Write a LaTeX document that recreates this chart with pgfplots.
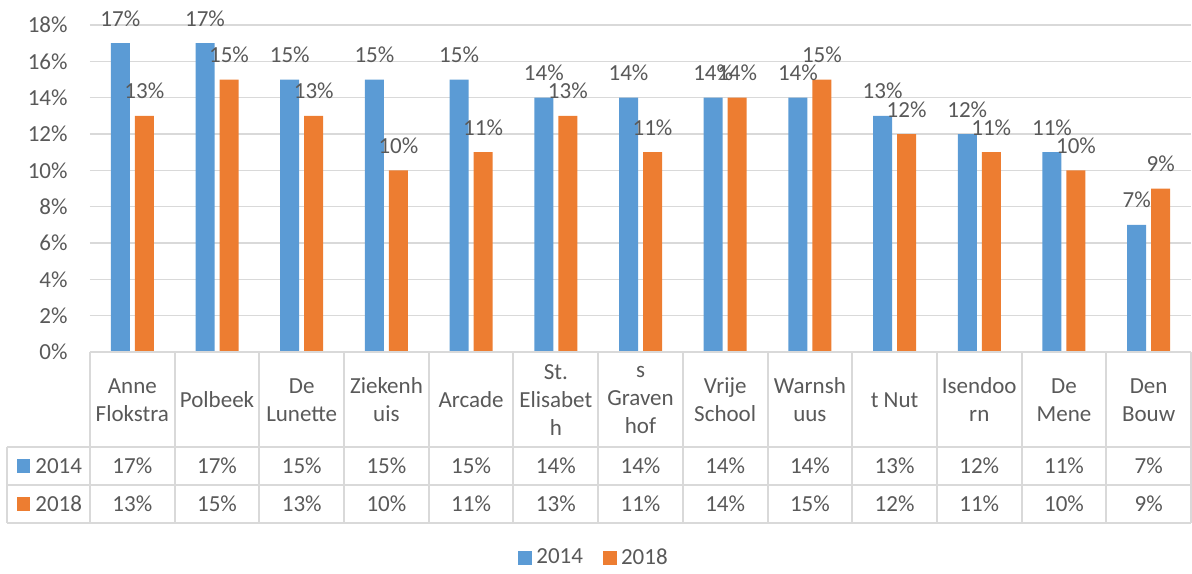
\documentclass[border=0pt]{standalone}
\usepackage{pgfplots}
\pgfplotsset{compat=1.18}
\usepackage{pgfplotstable}
\usepackage{fontspec}
\setmainfont{Carlito}
\definecolor{cblue}{HTML}{5B9BD5}
\definecolor{corange}{HTML}{ED7D31}
\definecolor{ctext}{HTML}{595959}
\definecolor{cgrid}{HTML}{D9D9D9}

\pgfplotstableread{
x a b
0 17 13
1 17 15
2 15 13
3 15 10
4 15 11
5 14 13
6 14 11
7 14 14
8 14 15
9 13 12
10 12 11
11 11 10
12 7 9
}\datatable

\begin{document}
\begin{tikzpicture}[font=\fontsize{11.5}{14}\selectfont, text=ctext]
\path[use as bounding box] (-45pt,-110.5pt) rectangle (551pt,176pt);
\begin{axis}[
  scale only axis, width=550.5pt, height=163.5pt,
  xmin=-0.5, xmax=12.5, ymin=0, ymax=18,
  clip=false,
  ytick={0,2,...,18},
  xtick={0,...,12},
  xticklabels={Anne\\Flokstra, Polbeek, De\\Lunette, Ziekenh\\uis, Arcade, St.\\Elisabet\\h, s\\Graven\\hof, Vrije\\School, Warnsh\\uus, t Nut, Isendoo\\rn, De\\Mene, Den\\Bouw},
  xticklabel style={align=center, anchor=center, yshift=-24pt, font=\fontsize{11.5}{14}\selectfont, text=ctext},
  yticklabel={\pgfmathprintnumber{\tick}\%},
  /pgf/number format/assume math mode=true,
  yticklabel style={xshift=-7.7pt, font=\fontsize{11.5}{14}\selectfont, text=ctext},
  major tick length=0pt,
  axis line style={draw=none},
  ymajorgrids, grid style={cgrid, line width=0.75pt},
  legend style={at={(0.4587,-0.63)}, anchor=center, draw=none, legend columns=-1,
    /tikz/every even column/.append style={column sep=8pt},
    font=\fontsize{11.5}{14}\selectfont, text=ctext},
  legend image code/.code={\fill[#1] (0pt,-3.5pt) rectangle (7pt,3.5pt);},
]
\addplot[ybar, bar width=9.5pt, bar shift=-6pt, fill=cblue, draw=none,
  nodes near coords={\pgfmathprintnumber{\pgfplotspointmeta}\%},
  every node near coord/.append style={anchor=center, xshift=-6pt, yshift=12.3pt, text=ctext, font=\fontsize{11.5}{14}\selectfont}]
  table[x=x, y=a] {\datatable};
\addlegendentry{2014}
\addplot[ybar, bar width=9.5pt, bar shift=6pt, fill=corange, draw=none,
  nodes near coords={\pgfmathprintnumber{\pgfplotspointmeta}\%},
  every node near coord/.append style={anchor=center, xshift=6pt, yshift=12.3pt, text=ctext, font=\fontsize{11.5}{14}\selectfont}]
  table[x=x, y=b] {\datatable};
\addlegendentry{2018}
% data table values
\addplot[draw=none, mark=none, forget plot, point meta=explicit,
  nodes near coords={\pgfmathprintnumber{\pgfplotspointmeta}\%},
  every node near coord/.append style={anchor=center, yshift=-57pt, text=ctext, font=\fontsize{11.5}{14}\selectfont}]
  table[x=x, y expr=0, meta=a] {\datatable};
\addplot[draw=none, mark=none, forget plot, point meta=explicit,
  nodes near coords={\pgfmathprintnumber{\pgfplotspointmeta}\%},
  every node near coord/.append style={anchor=center, yshift=-76pt, text=ctext, font=\fontsize{11.5}{14}\selectfont}]
  table[x=x, y expr=0, meta=b] {\datatable};
% table grid
\draw[cgrid, line width=1pt] (rel axis cs:0,0) -- (rel axis cs:1,0);
\draw[cgrid, line width=1pt] ([xshift=-41.5pt,yshift=-47.5pt]rel axis cs:0,0) -- ([yshift=-47.5pt]rel axis cs:1,0);
\draw[cgrid, line width=1pt] ([xshift=-41.5pt,yshift=-66.5pt]rel axis cs:0,0) -- ([yshift=-66.5pt]rel axis cs:1,0);
\draw[cgrid, line width=1pt] ([xshift=-41.5pt,yshift=-85.5pt]rel axis cs:0,0) -- ([yshift=-85.5pt]rel axis cs:1,0);
\draw[cgrid, line width=1pt] ([xshift=-41.5pt,yshift=-47.5pt]rel axis cs:0,0) -- ([xshift=-41.5pt,yshift=-85.5pt]rel axis cs:0,0);
\pgfplotsinvokeforeach{-0.5,0.5,...,12.5}{
  \draw[cgrid, line width=1pt] (axis cs:#1,0) -- ([yshift=-85.5pt]axis cs:#1,0);
}
% row keys
\fill[cblue] ([xshift=-36.5pt,yshift=-60.5pt]rel axis cs:0,0) rectangle ([xshift=-30pt,yshift=-53.5pt]rel axis cs:0,0);
\fill[corange] ([xshift=-36.5pt,yshift=-79.5pt]rel axis cs:0,0) rectangle ([xshift=-30pt,yshift=-72.5pt]rel axis cs:0,0);
\node[anchor=west, inner sep=0pt, text=ctext] at ([xshift=-27.5pt,yshift=-57pt]rel axis cs:0,0) {2014};
\node[anchor=west, inner sep=0pt, text=ctext] at ([xshift=-27.5pt,yshift=-76pt]rel axis cs:0,0) {2018};
\end{axis}
\end{tikzpicture}
\end{document}
